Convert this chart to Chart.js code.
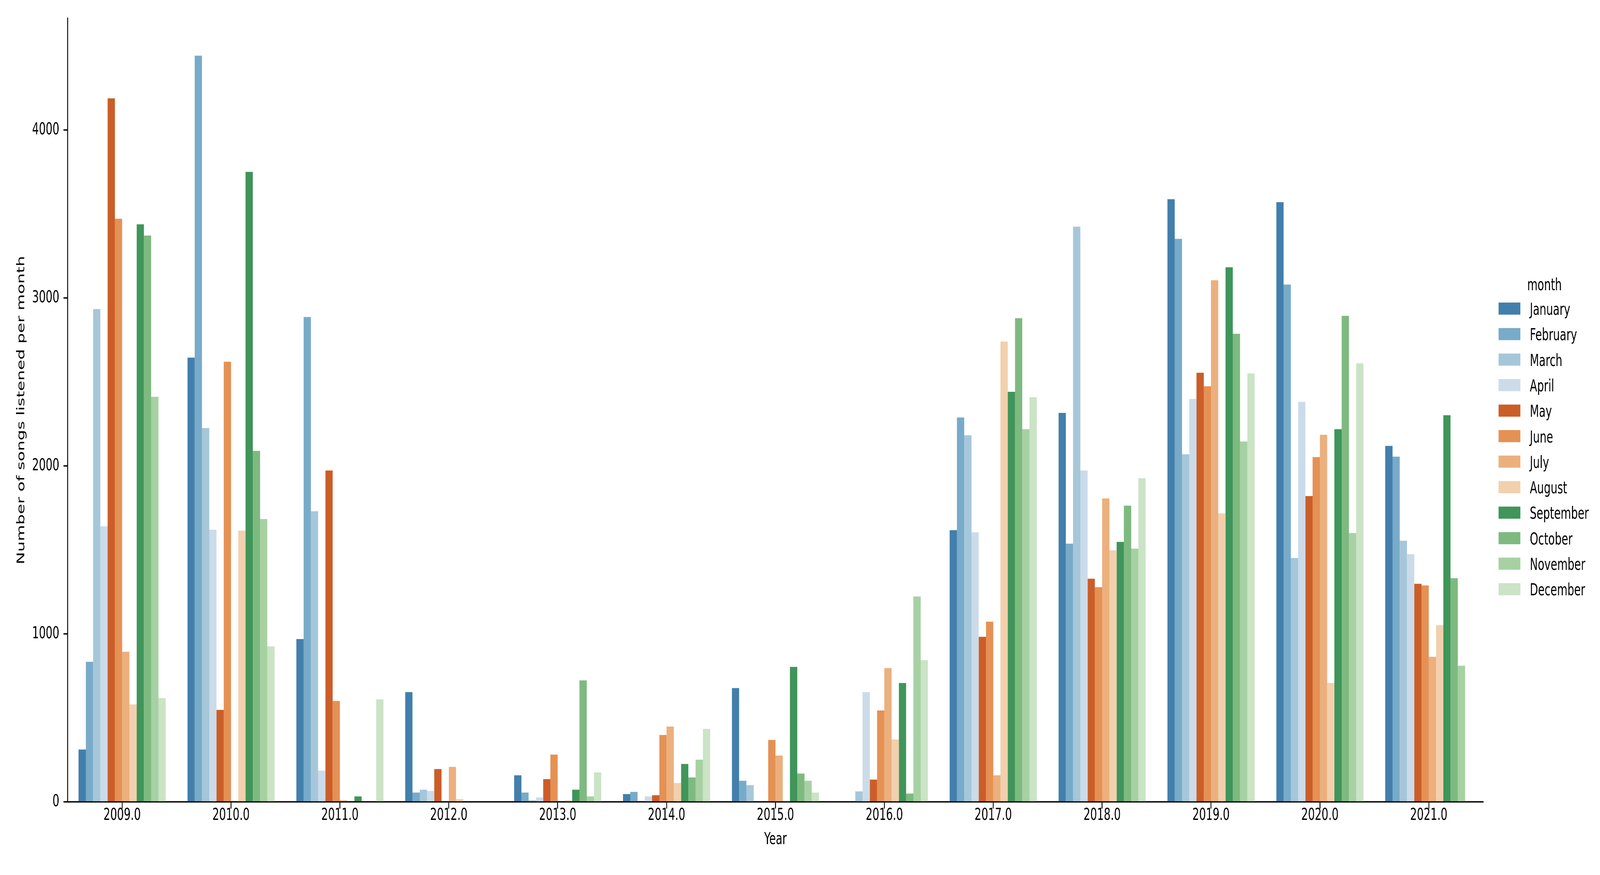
<!DOCTYPE html>
<html>
<head>
<meta charset="utf-8">
<script src="https://cdn.jsdelivr.net/npm/chart.js@4.4.1/dist/chart.umd.min.js"></script>
<style>
  html, body { margin: 0; padding: 0; background: #fff; overflow: hidden; }
  canvas { display: block; }
</style>
</head>
<body>
<!-- drawn at 6453x2240 and stretched to whatever window we get -->
<canvas id="songsChart" width="6453" height="2240" style="width:100vw;height:100vh"></canvas>
<script>
// years on the x axis (seaborn printed them as floats)
const years = ['2009.0', '2010.0', '2011.0', '2012.0', '2013.0', '2014.0', '2015.0',
               '2016.0', '2017.0', '2018.0', '2019.0', '2020.0', '2021.0'];
const months = ['January', 'February', 'March', 'April', 'May', 'June', 'July',
                'August', 'September', 'October', 'November', 'December'];
const yTicks = [0, 1000, 2000, 3000, 4000];

// songs per month, one value per year 2009..2021
const january   = [312, 2645, 970, 654, 159, 47, 678, 0, 1618, 2316, 3588, 3571, 2120];
const february  = [834, 4443, 2887, 56, 56, 60, 126, 0, 2289, 1538, 3352, 3080, 2056];
const march     = [2934, 2226, 1731, 73, 10, 0, 100, 63, 2183, 3425, 2070, 1452, 1555];
const april     = [1641, 1621, 186, 66, 27, 33, 0, 654, 1605, 1973, 2399, 2382, 1475];
const may       = [4189, 548, 1973, 196, 136, 40, 0, 133, 983, 1329, 2555, 1821, 1299];
const june      = [3472, 2621, 601, 0, 282, 399, 369, 545, 1073, 1279, 2475, 2053, 1289];
const july      = [894, 0, 10, 209, 0, 449, 276, 797, 159, 1807, 3106, 2186, 864];
const august    = [581, 1615, 0, 17, 10, 113, 5, 372, 2741, 1498, 1718, 708, 1053];
const september = [3439, 3751, 33, 0, 73, 226, 804, 708, 2442, 1548, 3183, 2219, 2302];
const october   = [3372, 2090, 0, 0, 724, 146, 169, 50, 2880, 1764, 2787, 2894, 1332];
const november  = [2412, 1684, 0, 0, 33, 252, 126, 1223, 2219, 1508, 2146, 1601, 811];
const december  = [618, 927, 611, 0, 176, 435, 56, 844, 2409, 1927, 2551, 2611, 0];

const series = [january, february, march, april, may, june, july,
                august, september, october, november, december];

// tab20c, desaturated like seaborn does for bars
const baseColors = ['#3182bd', '#6baed6', '#9ecae1', '#c6dbef', '#e6550d', '#fd8d3c',
                    '#fdae6b', '#fdd0a2', '#31a354', '#74c476', '#a1d99b', '#c7e9c0'];

function desaturate(hex, prop) {
    let r = parseInt(hex.slice(1, 3), 16) / 255;
    let g = parseInt(hex.slice(3, 5), 16) / 255;
    let b = parseInt(hex.slice(5, 7), 16) / 255;
    const max = Math.max(r, g, b), min = Math.min(r, g, b);
    const l = (max + min) / 2;
    let h = 0, s = 0;
    if (max !== min) {
        const d = max - min;
        s = l > 0.5 ? d / (2 - max - min) : d / (max + min);
        if (max === r) h = ((g - b) / d + 6) % 6;
        else if (max === g) h = (b - r) / d + 2;
        else h = (r - g) / d + 4;
        h /= 6;
    }
    s *= prop;
    const q = l < 0.5 ? l * (1 + s) : l + s - l * s;
    const p = 2 * l - q;
    const hue = t => {
        t = (t + 1) % 1;
        if (t < 1 / 6) return p + (q - p) * 6 * t;
        if (t < 1 / 2) return q;
        if (t < 2 / 3) return p + (q - p) * (2 / 3 - t) * 6;
        return p;
    };
    r = hue(h + 1 / 3); g = hue(h); b = hue(h - 1 / 3);
    return 'rgb(' + [r, g, b].map(v => Math.round(v * 255)).join(',') + ')';
}
const colors = baseColors.map(c => desaturate(c, 0.75));

Chart.defaults.font.family = '"DejaVu Sans", sans-serif';
Chart.defaults.font.size = 43;
Chart.defaults.color = '#000';

// matplotlib-style legend to the right of the axes
const sideLegend = {
    id: 'sideLegend',
    afterDraw(chart) {
        const ctx = chart.ctx;
        ctx.save();
        ctx.font = '43px "DejaVu Sans"';
        ctx.fillStyle = '#000';
        ctx.textBaseline = 'alphabetic';
        ctx.textAlign = 'center';
        ctx.fillText('month', 6229, 743);
        ctx.textAlign = 'left';
        chart.data.datasets.forEach((ds, i) => {
            const y = 790 + i * 65.3;
            ctx.fillStyle = ds.backgroundColor;
            ctx.fillRect(6044, y - 15.5, 88, 31);
            ctx.fillStyle = '#000';
            ctx.fillText(ds.label, 6170, y + 16);
        });
        ctx.restore();
    }
};

const axisGrid = {
    display: true,
    drawOnChartArea: false,
    drawTicks: true,
    tickLength: 17,
    color: '#000',
    lineWidth: 3.5
};

const chart = new Chart(document.getElementById('songsChart'), {
    type: 'bar',
    data: {
        labels: years,
        datasets: months.map((m, i) => ({
            label: m,
            data: series[i],
            backgroundColor: colors[i],
            borderWidth: 0,
            categoryPercentage: 0.8,
            barPercentage: 1.0
        }))
    },
    options: {
        responsive: false,
        animation: false,
        devicePixelRatio: 1,
        layout: { padding: { left: 0, right: 471, top: 47, bottom: 0 } },
        plugins: {
            legend: { display: false },
            tooltip: { enabled: false }
        },
        scales: {
            x: {
                grid: Object.assign({}, axisGrid, { offset: false }),
                border: { display: true, color: '#000', width: 3.5 },
                ticks: { padding: -8, maxRotation: 0, autoSkip: false },
                title: { display: true, text: 'Year', padding: { top: 0, bottom: 64 } },
                afterFit: s => { s.height = 187; }
            },
            y: {
                min: 0,
                max: 4665,
                grid: axisGrid,
                border: { display: true, color: '#000', width: 3.5 },
                ticks: { padding: 17, callback: v => String(v) },
                afterBuildTicks: s => { s.ticks = yTicks.map(v => ({ value: v })); },
                title: { display: true, text: 'Number of songs listened per month', padding: { top: 61, bottom: 0 } },
                afterFit: s => { s.width = 273; }
            }
        }
    },
    plugins: [sideLegend]
});

chart.canvas.style.width = '100vw';
chart.canvas.style.height = '100vh';
</script>
</body>
</html>
